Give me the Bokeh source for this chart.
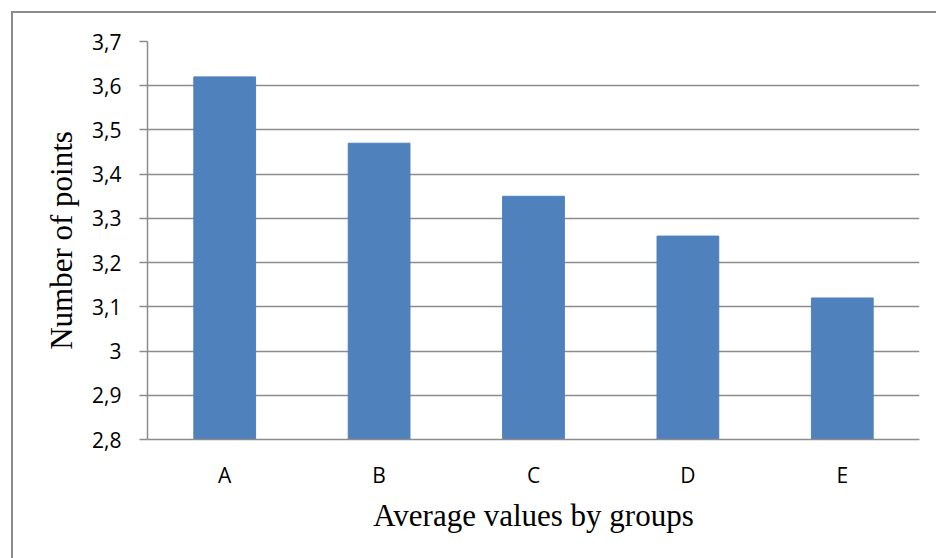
from bokeh.plotting import figure
from bokeh.models import FactorRange, Range1d, FixedTicker, CustomJSTickFormatter, InlineStyleSheet
from bokeh.embed import file_html
from bokeh.resources import INLINE

categories = ["A", "B", "C", "D", "E"]
values = [3.62, 3.47, 3.35, 3.26, 3.12]
y_ticks = [2.8, 2.9, 3.0, 3.1, 3.2, 3.3, 3.4, 3.5, 3.6, 3.7]
y_min, y_max = 2.8, 3.7

GRAY = "#8c8c8c"

p = figure(
    x_range=FactorRange(*categories, range_padding=0),
    y_range=Range1d(y_min, y_max),
    frame_width=772, frame_height=398,
    min_border_left=134, min_border_top=28, min_border_right=17, min_border_bottom=119,
    output_backend="svg", toolbar_location=None,
)
p.outline_line_color = None
p.stylesheets = [InlineStyleSheet(css=(
    ":host { margin-left: 11px; margin-top: 11px; "
    "border-left: 2px solid #8c8c8c; border-top: 2px solid #8c8c8c; "
    "border-right: none; border-bottom: none; }"))]

p.vbar(x=categories, top=values, bottom=y_min, width=0.4,
       fill_color="#4f81bd", line_color="#4f81bd")

p.xgrid.visible = False
p.ygrid.ticker = FixedTicker(ticks=y_ticks)
p.ygrid.grid_line_color = GRAY
p.ygrid.grid_line_width = 1.5

p.yaxis.ticker = FixedTicker(ticks=y_ticks)
p.yaxis.formatter = CustomJSTickFormatter(
    code="return (Math.round(tick*10)/10).toString().replace('.', ',');")
for ax in (p.xaxis, p.yaxis):
    ax.axis_line_color = GRAY
    ax.axis_line_width = 1.5
    ax.major_tick_line_color = GRAY
    ax.major_tick_line_width = 1.5
    ax.minor_tick_line_color = None
    ax.major_label_text_font = "Open Sans"
    ax.major_label_text_font_size = "21px"
    ax.major_label_text_color = "black"
    ax.axis_label_text_font = "Liberation Serif"
    ax.axis_label_text_font_size = "31px"
    ax.axis_label_text_font_style = "normal"
    ax.axis_label_text_color = "black"

p.yaxis.major_tick_out = 8
p.yaxis.major_tick_in = 0
p.yaxis.major_label_standoff = 18
p.yaxis.axis_label = "Number of points"
p.yaxis.axis_label_standoff = 10

p.xaxis.major_tick_out = 0
p.xaxis.major_tick_in = 0
p.xaxis.major_label_standoff = 21
p.xaxis.axis_label = "Average values by groups"
p.xaxis.axis_label_standoff = 6

open("out.html", "w").write(file_html(p, INLINE))
